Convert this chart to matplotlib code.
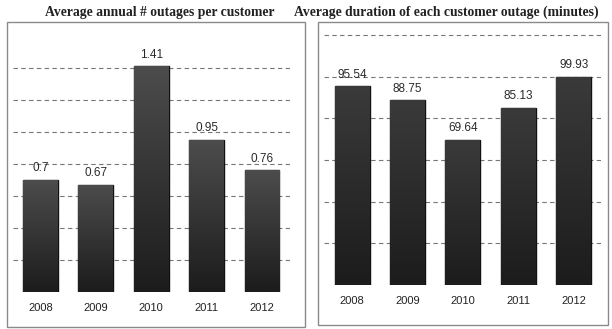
import numpy as np
import matplotlib.pyplot as plt
from matplotlib.colors import LinearSegmentedColormap
from matplotlib.patches import Rectangle

years = ['2008', '2009', '2010', '2011', '2012']
outages = [0.7, 0.67, 1.41, 0.95, 0.76]
outage_labels = ['0.7', '0.67', '1.41', '0.95', '0.76']
duration = [95.54, 88.75, 69.64, 85.13, 99.93]
duration_labels = ['95.54', '88.75', '69.64', '85.13', '99.93']

fig = plt.figure(figsize=(6.12, 3.29), dpi=100)


def panel(rect, vals, labels, ymax, step, title, title_x, box, top_col):
    ax = fig.add_axes(rect)
    x = np.arange(len(vals))
    bars = ax.bar(x, vals, width=0.63, color='#333333', edgecolor='#111111',
                  linewidth=1.0, zorder=3)
    # vertical shading inside each bar
    grad = LinearSegmentedColormap.from_list('g', ['#1c1c1c', top_col])
    g = np.linspace(0, 1, 100).reshape(-1, 1)
    for b in bars:
        im = ax.imshow(g, cmap=grad, aspect='auto', origin='lower', zorder=3.5,
                       extent=[b.get_x(), b.get_x() + b.get_width(), 0, b.get_height()])
        im.set_clip_path(b)
    for xi, v, lab in zip(x, vals, labels):
        ax.annotate(lab, (xi, v), xytext=(0, 4), textcoords='offset points',
                    ha='center', va='bottom', fontsize=8.5, color='#2a2a2a',
                    family='Liberation Sans')
    for gy in np.arange(step, ymax, step):
        ax.axhline(gy, color='#777777', lw=0.8, ls=(0, (4, 3)), zorder=1)
    ax.set_xlim(-0.5, len(vals) - 0.5)
    ax.set_ylim(0, ymax)
    ax.set_xticks(x)
    ax.set_xticklabels(years, fontsize=8, family='Liberation Sans', color='#222222')
    ax.tick_params(axis='x', length=0, pad=8)
    ax.set_yticks([])
    for s in ax.spines.values():
        s.set_visible(False)
    ax.axhline(0, color='#bbbbbb', lw=0.6, ls=(0, (1, 3)), zorder=1)
    fig.add_artist(Rectangle(box[:2], box[2], box[3], transform=fig.transFigure,
                             fill=False, edgecolor='#8a8a8a', lw=1.0))
    fig.text(title_x, 0.962, title, ha='center', va='center', fontsize=9.8,
             family='Liberation Serif', fontweight='bold', color='#222222')
    return ax


panel([0.0208, 0.1125, 0.4526, 0.778], outages, outage_labels, 1.6, 0.2,
      'Average annual # outages per customer', 0.261,
      (0.0114, 0.006, 0.487, 0.927), '#4c4c4c')
panel([0.530, 0.1337, 0.4526, 0.772], duration, duration_labels, 122, 20,
      'Average duration of each customer outage (minutes)', 0.729,
      (0.5196, 0.012, 0.474, 0.921), '#3a3a3a')

plt.savefig('out.png', dpi=100)
